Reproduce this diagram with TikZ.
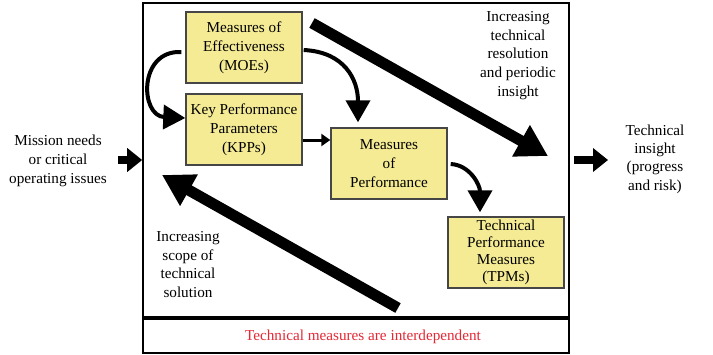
\documentclass[tikz,border=0pt]{standalone}
\usepackage{fontspec}
\setmainfont{Liberation Serif}
\usetikzlibrary{arrows.meta}
\definecolor{boxfill}{RGB}{244,235,148}
\definecolor{boxline}{RGB}{70,70,70}
\definecolor{notered}{RGB}{228,40,52}
\tikzset{
  measure/.style={draw=boxline, line width=1.4pt, fill=boxfill, align=center,
    minimum width=116pt, minimum height=71pt, inner sep=0.5pt,
    font=\fontsize{15.2}{18.8}\selectfont},
  sidetext/.style={align=center, font=\fontsize{15.2}{18.8}\selectfont},
  bigarrow/.style={line width=11pt, -{Triangle[length=31pt,width=34pt]}},
  ioarrow/.style={line width=8pt, -{Triangle[length=15pt,width=23pt]}},
  bendarrow/.style={line width=4pt, -{Triangle[length=22pt,width=24pt]}},
  linkarrow/.style={line width=3pt, -{Triangle[length=9pt,width=12pt]}}
}
\begin{document}
\begin{tikzpicture}[x=1pt,y=-1pt]
\useasboundingbox (0,0) rectangle (713,354);

% outer frame and the footer strip
\node[draw, line width=1.6pt, minimum width=426pt, minimum height=350pt, inner sep=0pt]
  (frame) at (356,178) {};
\draw[line width=3.2pt] (frame.west |- 0,318) -- (frame.east |- 0,318);
\node[sidetext, text=notered] (note) at (363,337) {Technical measures are interdependent};

% the four measure boxes
\node[measure] (moe) at (244,47.5) {Measures of\\Effectiveness\\(MOEs)};
\node[measure] (kpp) at (244,129.5) {Key Performance\\Parameters\\(KPPs)};
\node[measure] (mop) at (389,163.5) {Measures\\of\\Performance};
\node[measure, font=\fontsize{15.2}{17.2}\selectfont] (tpm) at (506,252.5)
  {Technical\\Performance\\Measures\\(TPMs)};

% side texts
\node[sidetext] (mission) at (58,161) {Mission needs\\or critical\\operating issues};
\node[sidetext, font=\fontsize{15.2}{18.3}\selectfont] (insight) at (655,159)
  {Technical\\insight\\(progress\\and risk)};
\node[sidetext, font=\fontsize{15.2}{18.8}\selectfont] (resolution) at (518,55.5)
  {Increasing\\technical\\resolution\\and periodic\\insight};
\node[sidetext, font=\fontsize{15.2}{18.4}\selectfont] (scope) at (188,264.5)
  {Increasing\\scope of\\technical\\solution};

% input and output arrows
\draw[ioarrow] ([xshift=8pt]mission.east |- 0,160) -- (frame.west |- 0,160);
\draw[ioarrow] ([xshift=4pt]frame.east |- 0,160) -- ([xshift=-14pt]insight.west |- 0,160);

% broad trend arrows
\coordinate (resA) at (312,23);
\coordinate (resB) at (548,156);
\draw[bigarrow] (resA) -- (resB);
\coordinate (scoA) at (398,308);
\coordinate (scoB) at (162,175);
\draw[bigarrow] (scoA) -- (scoB);

% links between the measures
\draw[bendarrow] ([xshift=-4pt,yshift=-4.5pt]moe.west)
  .. controls (138,50) and (140,116) .. ([yshift=11.5pt]kpp.west);
\draw[bendarrow] ([xshift=1pt,yshift=-2.5pt]moe.east)
  .. controls (345,52) and (358,80) .. ([xshift=-31pt,yshift=5pt]mop.north);
\draw[linkarrow] ([yshift=-10.5pt]kpp.east) -- ([yshift=-10.5pt]kpp.east -| mop.west);
\draw[bendarrow] ([xshift=3pt,yshift=-0.5pt]mop.east)
  .. controls (470,165) and (480,185) .. ([xshift=-26pt,yshift=4pt]tpm.north);
\end{tikzpicture}
\end{document}
